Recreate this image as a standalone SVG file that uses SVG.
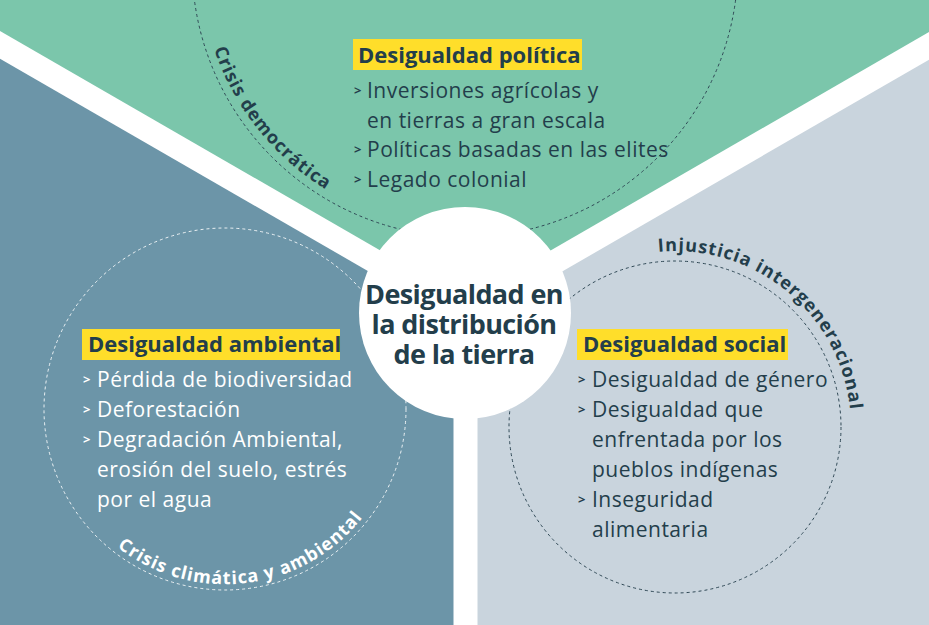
<svg xmlns="http://www.w3.org/2000/svg" width="929" height="625" viewBox="0 0 929 625">
<style>
.dark{fill:#233e4b}
.wht{fill:#ffffff}
.body{font-family:"Open Sans","Noto Sans",sans-serif;font-size:21px;font-weight:400;letter-spacing:0.5px}
.bul{font-family:"Open Sans","Noto Sans",sans-serif;font-size:13px;font-weight:700}
.head{font-family:"Open Sans","Noto Sans",sans-serif;font-size:22px;font-weight:700}
.arc{font-family:"Open Sans","Noto Sans",sans-serif;font-size:18px;font-weight:700;letter-spacing:1px}
.ctr{font-family:"Open Sans","Noto Sans",sans-serif;font-size:27px;font-weight:700;letter-spacing:-0.6px;fill:#233e4b;text-anchor:middle}
.dash{fill:none;stroke-width:1;stroke-dasharray:3 3}
.hl{fill:#ffde2a}
</style>
<defs>
<path id="pDem" d="M205.2,-88.4 A265,265 0 0 0 458.5,228.9"/>
<path id="pClim" d="M57.6,460.2 A175,175 0 0 0 399.8,418.2"/>
<path id="pInj" d="M560.9,293 A176,176 0 0 1 828,513.9"/>
</defs>
<g id="background">
<rect x="0" y="0" width="929" height="625" fill="#7bc6ab"/>
<polygon points="0,45 465.5,313.5 465.5,625 0,625" fill="#6c95a8"/>
<polygon points="929,45.5 465.5,313.5 465.5,625 929,625" fill="#c9d4dd"/>
</g>
<g id="dashed-circles">
<circle cx="465" cy="-36" r="273" class="dash" stroke="#2f4855"/>
<circle cx="225" cy="409" r="181" class="dash" stroke="#ffffff" stroke-opacity="0.85"/>
<circle cx="675" cy="427" r="166" class="dash" stroke="#2f4855"/>
</g>
<g id="connectors">
<line x1="465.5" y1="313.5" x2="-10" y2="39" stroke="#ffffff" stroke-width="24"/>
<line x1="465.5" y1="313.5" x2="939" y2="40" stroke="#ffffff" stroke-width="24"/>
<line x1="465.5" y1="313.5" x2="465.5" y2="640" stroke="#ffffff" stroke-width="24"/>
</g>
<g id="center">
<circle cx="465" cy="313" r="106" fill="#ffffff"/>
<text class="ctr" x="464" y="304">Desigualdad en</text>
<text class="ctr" x="464" y="334">la distribución</text>
<text class="ctr" x="464" y="364">de la tierra</text>
</g>
<g id="politica">
<rect x="353" y="39" width="229" height="31" class="hl"/>
<text class="head dark" x="358" y="63">Desigualdad política</text>
<text class="bul dark" x="354" y="95">&gt;</text>
<text class="body dark" x="367" y="98">Inversiones agrícolas y</text>
<text class="body dark" x="367" y="127.5">en tierras a gran escala</text>
<text class="bul dark" x="354" y="154">&gt;</text>
<text class="body dark" x="367" y="157">Políticas basadas en las elites</text>
<text class="bul dark" x="354" y="183.5">&gt;</text>
<text class="body dark" x="367" y="186.5">Legado colonial</text>
</g>
<g id="ambiental">
<rect x="82" y="329" width="258" height="31" class="hl"/>
<text class="head dark" x="88" y="352">Desigualdad ambiental</text>
<text class="bul wht" x="83" y="384">&gt;</text>
<text class="body wht" x="97" y="387">Pérdida de biodiversidad</text>
<text class="bul wht" x="83" y="414">&gt;</text>
<text class="body wht" x="97" y="417">Deforestación</text>
<text class="bul wht" x="83" y="444">&gt;</text>
<text class="body wht" x="97" y="447">Degradación Ambiental,</text>
<text class="body wht" x="97" y="477">erosión del suelo, estrés</text>
<text class="body wht" x="97" y="507">por el agua</text>
</g>
<g id="social">
<rect x="577" y="329" width="211" height="31" class="hl"/>
<text class="head dark" x="583" y="352">Desigualdad social</text>
<text class="bul dark" x="578" y="384">&gt;</text>
<text class="body dark" x="592" y="387">Desigualdad de género</text>
<text class="bul dark" x="578" y="414">&gt;</text>
<text class="body dark" x="592" y="417">Desigualdad que</text>
<text class="body dark" x="592" y="447">enfrentada por los</text>
<text class="body dark" x="592" y="477">pueblos indígenas</text>
<text class="bul dark" x="578" y="504">&gt;</text>
<text class="body dark" x="592" y="507">Inseguridad</text>
<text class="body dark" x="592" y="537">alimentaria</text>
</g>
<g id="arc-labels">
<text class="arc dark"><textPath href="#pDem" startOffset="50%" text-anchor="middle">Crisis democrática</textPath></text>
<text class="arc wht"><textPath href="#pClim" startOffset="50%" text-anchor="middle">Crisis climática y ambiental</textPath></text>
<text class="arc dark"><textPath href="#pInj" startOffset="50%" text-anchor="middle">Injusticia intergeneracional</textPath></text>
</g>
</svg>
